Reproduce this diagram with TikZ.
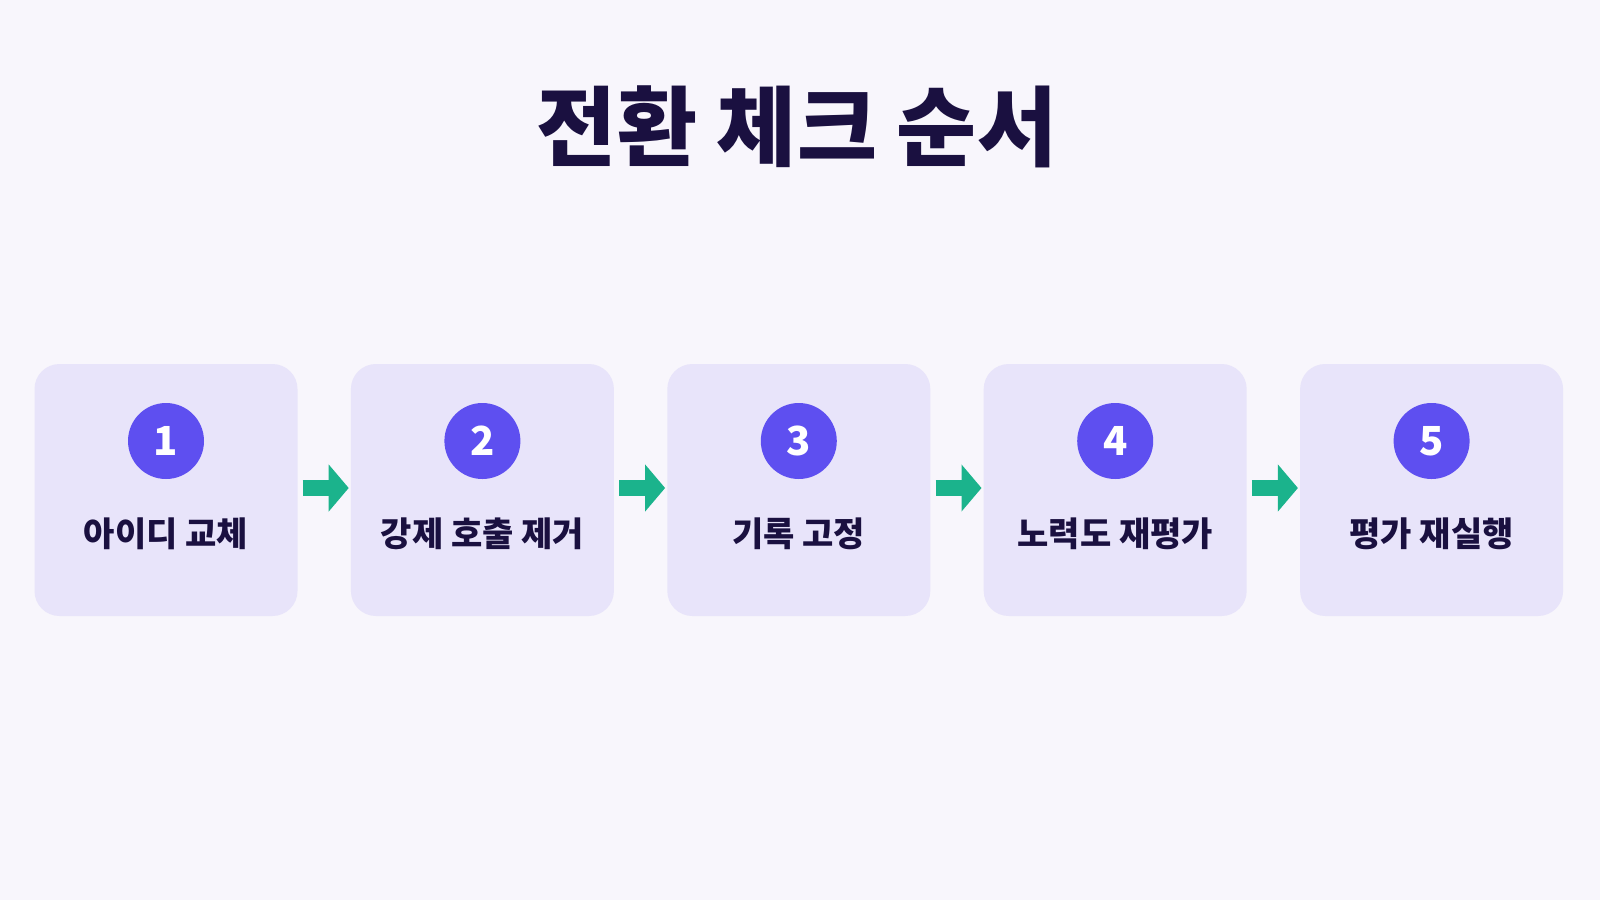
\documentclass[tikz,border=0pt]{standalone}
\usepackage{fontspec}
\setmainfont{Noto Sans CJK KR}
\usetikzlibrary{arrows.meta}
\definecolor{bg}{HTML}{F8F6FC}
\definecolor{boxfill}{HTML}{E8E4FA}
\definecolor{badge}{HTML}{5E4FF0}
\definecolor{ink}{HTML}{1A1040}
\definecolor{teal}{HTML}{1BB38C}
\tikzset{
  stepcard/.style={draw=none, fill=boxfill, rounded corners=25pt, minimum width=263pt, minimum height=252pt},
  badgedot/.style={circle, fill=badge, minimum size=76pt, inner sep=0pt, text=white, font=\bfseries\fontsize{40}{40}\selectfont},
  steplabel/.style={text=ink, font=\bfseries\fontsize{34}{34}\selectfont},
  flow/.style={draw=teal, line width=16pt, -{Triangle[length=20pt,width=46pt]}, shorten <=5pt, shorten >=2pt},
}
\begin{document}
\begin{tikzpicture}[x=1pt,y=-1pt]
\fill[bg] (0,0) rectangle (1600,900);
\useasboundingbox (0,0) rectangle (1600,900);
\node[text=ink, font=\bfseries\fontsize{87}{87}\selectfont] (title) at (797,127) {전환 체크 순서};
\foreach \i/\lab in {1/아이디 교체, 2/강제 호출 제거, 3/기록 고정, 4/노력도 재평가, 5/평가 재실행} {
  \pgfmathsetmacro{\cx}{166+316.4*(\i-1)}
  \node[stepcard] (card\i) at (\cx,490) {};
  \node[badgedot] (num\i) at (\cx,441) {\i};
  \node[steplabel] (lab\i) at (\cx,534) {\lab};
}
\foreach \a/\b in {1/2,2/3,3/4,4/5} {
  \draw[flow] ([yshift=2pt]card\a.east) -- ([yshift=2pt]card\b.west);
}
\end{tikzpicture}
\end{document}
